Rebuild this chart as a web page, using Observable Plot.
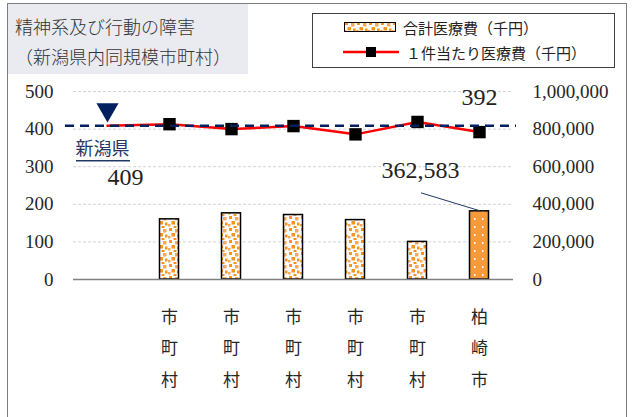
<!DOCTYPE html>
<html><head><meta charset="utf-8">
<script src="https://cdn.jsdelivr.net/npm/d3@7"></script>
<script src="https://cdn.jsdelivr.net/npm/@observablehq/plot@0.6"></script>
<style>
body{margin:0;background:#fff;}
#wrap{position:relative;width:633px;height:417px;overflow:hidden;font-family:"Liberation Serif","Noto Sans CJK JP",serif;}
#plot{position:absolute;left:0;top:0;}
#frame{position:absolute;left:7px;top:3px;width:620px;height:430px;border:1.5px solid #7f7f7f;box-sizing:border-box;pointer-events:none;}
#title{position:absolute;left:8px;top:4px;width:240px;height:70px;background:#e9ebf1;color:#333;font-family:"Noto Sans CJK JP",sans-serif;font-size:18px;font-weight:300;line-height:30px;padding:7px 0 0 7px;box-sizing:border-box;white-space:nowrap;}
#legend{position:absolute;left:312px;top:13px;width:303px;height:55px;border:1.3px solid #404040;box-sizing:border-box;font-family:"Liberation Serif","Noto Sans CJK JP",serif;font-size:15px;color:#222;}
.li{position:absolute;white-space:nowrap;display:flex;align-items:center;}
</style></head>
<body>
<div id="wrap">
  <div id="plot"></div>
  <div id="frame"></div>
  <div id="title">精神系及び行動の障害<br>（新潟県内同規模市町村）</div>
  <div id="legend">
    <div class="li" style="left:31px;top:2px;height:22px;">
      <svg width="52" height="10" style="margin-right:7px"><defs>
        <pattern id="lgPat" patternUnits="userSpaceOnUse" width="12" height="12">
          <rect width="12" height="12" fill="#fff"/>
          <rect x="1" y="0" width="3" height="3" fill="#f7941d"/>
          <rect x="7" y="1" width="3.5" height="3.5" fill="#f5a95a"/>
          <rect x="3.5" y="5" width="3.5" height="3.5" fill="#f7941d"/>
          <rect x="9" y="6.5" width="2.5" height="3" fill="#f7941d"/>
          <rect x="0" y="8" width="2.5" height="2.5" fill="#f5a95a"/>
          <rect x="5.5" y="10" width="3" height="2" fill="#f7941d"/>
        </pattern></defs>
        <rect x="0.5" y="0.5" width="51" height="9" fill="url(#lgPat)" stroke="#000" stroke-width="1"/>
      </svg>合計医療費（千円）</div>
    <div class="li" style="left:30px;top:27px;height:22px;">
      <svg width="56" height="14" style="margin-right:7px">
        <line x1="0" y1="7" x2="56" y2="7" stroke="#ff0000" stroke-width="2.5"/>
        <rect x="23" y="2" width="10" height="10" fill="#000"/>
      </svg>１件当たり医療費（千円）</div>
  </div>
</div>
<script>
// ---- data ----
const categories = ["新潟県", "市町村1", "市町村2", "市町村3", "市町村4", "市町村5", "柏崎市"];
const xLabels = ["", "市\n町\n村", "市\n町\n村", "市\n町\n村", "市\n町\n村", "市\n町\n村", "柏\n崎\n市"];
const totalCost = [null, 320000, 352000, 343000, 316000, 200000, 362583];   // 合計医療費（千円） right axis
const perCase = [409, 413, 400, 408, 386, 419, 392];                         // １件当たり医療費（千円） left axis
const prefAvg = 409;
const prefName = "新潟県";
const leftTicks = [0, 100, 200, 300, 400, 500];
const rightTicks = [0, 200000, 400000, 600000, 800000, 1000000];
const rightRatio = 1000000 / 500;

const rows = categories.map((c, i) => ({cat: c, total: totalCost[i], perCase: perCase[i]}));
const barRows = rows.filter(d => d.total != null && d.cat !== "柏崎市");
const lastRow = rows.filter(d => d.cat === "柏崎市");
const pref = [{cat: prefName, v: prefAvg}];
const labelMap = new Map(categories.map((c, i) => [c, xLabels[i]]));
const fmt = d3.format(",");
const navy = "#002060";

const plot = Plot.plot({
  width: 633, height: 417,
  marginTop: 91, marginBottom: 138, marginLeft: 73, marginRight: 120,
  style: {background: "none", fontFamily: '"Liberation Serif","Noto Sans CJK JP",serif', color: "#262626", overflow: "visible"},
  x: {type: "band", domain: categories, padding: 0},
  y: {domain: [0, 500]},
  marks: [
    Plot.ruleY(leftTicks.filter(d => d > 0), {stroke: "#d4d4d4", strokeWidth: 1, strokeDasharray: "3,2"}),
    Plot.barY(barRows, {x: "cat", y: d => d.total / rightRatio, fill: "url(#barPat)", stroke: "#000", strokeWidth: 1.5, insetLeft: 21.5, insetRight: 21.5}),
    Plot.barY(lastRow, {x: "cat", y: d => d.total / rightRatio, fill: "url(#barPat2)", stroke: "#000", strokeWidth: 1.5, insetLeft: 21.5, insetRight: 21.5}),
    Plot.ruleY([0], {stroke: "#808080", strokeWidth: 1.5}),
    Plot.line(rows, {x: "cat", y: "perCase", stroke: "#ff0000", strokeWidth: 2.5}),
    Plot.dot(rows.slice(1), {x: "cat", y: "perCase", symbol: "square", fill: "#000", r: 7}),
    Plot.ruleY([prefAvg], {stroke: navy, strokeWidth: 2.5, strokeDasharray: "9,6", insetLeft: -8, insetRight: -3}),
    Plot.dot(pref, {x: "cat", y: "v", symbol: "triangle", rotate: 180, fill: navy, r: 8.2, dy: -16}),
    Plot.text(pref, {x: "cat", y: "v", text: "cat", dx: -5, dy: 24, fill: "#1f3864", fontSize: 18}),
    Plot.tickY(pref, {x: "cat", y: "v", dy: 35, stroke: "#1f3864", strokeWidth: 1.5, insetRight: 8}),
    Plot.text(pref, {x: "cat", y: "v", text: d => d.v, dx: 18, dy: 52, fontSize: 24, fill: "#222"}),
    Plot.text(lastRow, {x: "cat", y: "perCase", text: d => d.perCase, dy: -35, fontSize: 24, fill: "#222"}),
    Plot.text(lastRow, {x: "cat", y: d => d.total / rightRatio, text: d => fmt(d.total), dx: -59, dy: -41, fontSize: 24, fill: "#222"}),
    Plot.axisY({ticks: leftTicks, anchor: "left", tickSize: 0, tickPadding: 20, fontSize: 19, label: null}),
    Plot.axisY({ticks: leftTicks, anchor: "right", tickSize: 0, tickPadding: 19, fontSize: 19, label: null, tickFormat: d => fmt(d * rightRatio)}),
    Plot.axisX({tickSize: 0, tickPadding: 21, fontSize: 17, lineHeight: 1.85, label: null, tickFormat: d => labelMap.get(d)})
  ]
});

const svg = d3.select(plot);
svg.insert("defs", ":first-child").html(`
  <pattern id="barPat" patternUnits="userSpaceOnUse" width="12" height="12">
    <rect width="12" height="12" fill="#fff"/>
    <rect x="1" y="0" width="3" height="3" fill="#f7941d"/>
    <rect x="7" y="1" width="3.5" height="3.5" fill="#f5a95a"/>
    <rect x="3.5" y="5" width="3.5" height="3.5" fill="#f7941d"/>
    <rect x="9" y="6.5" width="2.5" height="3" fill="#f7941d"/>
    <rect x="0" y="8" width="2.5" height="2.5" fill="#f5a95a"/>
    <rect x="5.5" y="10" width="3" height="2" fill="#f7941d"/>
  </pattern>
  <pattern id="barPat2" patternUnits="userSpaceOnUse" width="8" height="8">
    <rect width="8" height="8" fill="#f79a3a"/>
    <rect x="2" y="2" width="1.5" height="2" fill="#fff"/>
  </pattern>`);

// leader line from the 362,583 label to the bar top, via the plot's scales
const xs = plot.scale("x"), ys = plot.scale("y");
const lr = lastRow[0];
const bx = xs.apply(lr.cat) + xs.bandwidth / 2;
const by = ys.apply(lr.total / rightRatio);
svg.append("line").attr("x1", bx - 58).attr("y1", by - 18).attr("x2", bx + 1).attr("y2", by)
  .attr("stroke", "#1f3864").attr("stroke-width", 1);

document.getElementById("plot").appendChild(plot);
</script>
</body></html>
